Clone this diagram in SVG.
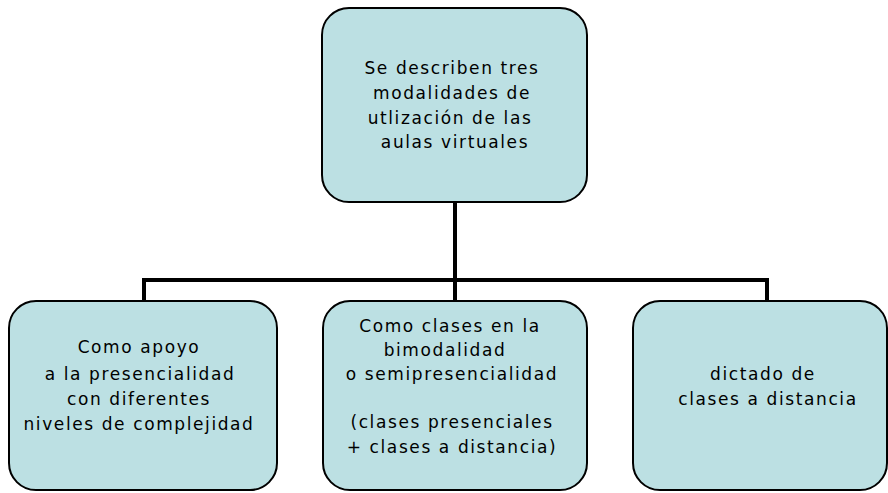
<svg xmlns="http://www.w3.org/2000/svg" width="888" height="493" viewBox="0 0 888 493">
<style>
.box{fill:#BCE0E3;stroke:#000;stroke-width:2}
.t{font-family:"DejaVu Sans",sans-serif;font-size:17px;letter-spacing:1.6px;fill:#000;text-anchor:middle}
.c{fill:none;stroke:#000;stroke-width:4}
</style>
<rect width="888" height="493" fill="#fff"/>
<g id="connectors">
<path class="c" d="M455 202 V280"/>
<path class="c" d="M144 300 V280 H767 V300"/>
<path class="c" d="M455 280 V300"/>
</g>
<g id="top">
<rect class="box" x="322" y="8" width="265" height="194" rx="27"/>
<text class="t" x="452" y="74">Se describen tres</text>
<text class="t" x="452" y="99">modalidades de</text>
<text class="t" x="450" y="124">utlización de las</text>
<text class="t" x="455" y="148">aulas virtuales</text>
</g>
<g id="left">
<rect class="box" x="9" y="301" width="268" height="189" rx="27"/>
<text class="t" x="139" y="353">Como apoyo</text>
<text class="t" x="140" y="380">a la presencialidad</text>
<text class="t" x="139" y="405">con diferentes</text>
<text class="t" x="139" y="430">niveles de complejidad</text>
</g>
<g id="middle">
<rect class="box" x="323" y="301" width="264" height="189" rx="27"/>
<text class="t" x="450" y="332">Como clases en la</text>
<text class="t" x="445" y="356">bimodalidad</text>
<text class="t" x="452" y="380">o semipresencialidad</text>
<text class="t" x="452" y="428">(clases presenciales</text>
<text class="t" x="452" y="453">+ clases a distancia)</text>
</g>
<g id="right">
<rect class="box" x="633" y="301" width="254" height="189" rx="27"/>
<text class="t" x="763" y="380">dictado de</text>
<text class="t" x="768" y="405">clases a distancia</text>
</g>
</svg>
